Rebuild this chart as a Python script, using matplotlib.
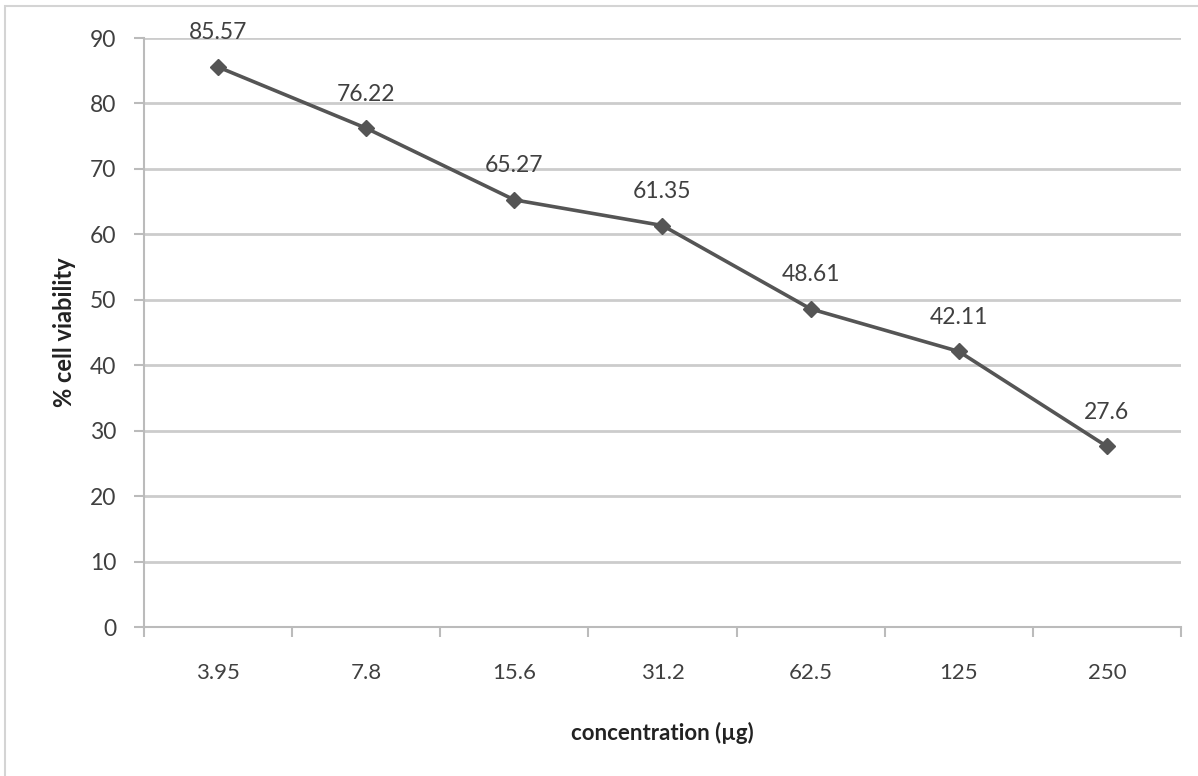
import matplotlib.pyplot as plt
from matplotlib.patches import Rectangle

concentrations = ["3.95", "7.8", "15.6", "31.2", "62.5", "125", "250"]
viability = [85.57, 76.22, 65.27, 61.35, 48.61, 42.11, 27.6]

plt.rcParams['font.family'] = ['Lato', 'DejaVu Sans']

fig = plt.figure(figsize=(11.98, 7.76), dpi=100)
ax = fig.add_axes([0.1202, 0.192, 0.8656, 0.759])

# outer chart frame
fig.patches.append(Rectangle((0.0045, -0.05), 1.1, 1.0425, transform=fig.transFigure,
                             fill=False, edgecolor='#d4d4d4', linewidth=1.5))

x = list(range(len(concentrations)))
ax.plot(x, viability, color='#555555', linewidth=2.6, marker='D', markersize=8,
        markerfacecolor='#555555', markeredgecolor='#555555', zorder=3)

for xi, v in zip(x, viability):
    ax.annotate(f"{v:g}", (xi, v), xytext=(0, 17), textcoords='offset points',
                ha='center', va='bottom', fontsize=16.5, color='#404040')

ax.set_xlim(-0.5, len(concentrations) - 0.5)
ax.set_ylim(0, 90)
ax.set_yticks(range(0, 91, 10))
ax.set_xticks(x)
ax.set_xticklabels(concentrations)
ax.set_xticks([i - 0.5 for i in range(len(concentrations) + 1)], minor=True)
ax.tick_params(axis='x', which='major', length=0, pad=26, labelsize=16, labelcolor='#404040')
ax.tick_params(axis='x', which='minor', length=7, width=1.5, color='#bbbbbb')
ax.tick_params(axis='y', length=7, width=1.5, color='#bbbbbb', labelsize=16.5,
               labelcolor='#404040', pad=13)

ax.grid(axis='y', color='#cccccc', linewidth=2)
ax.set_axisbelow(True)
for side in ['top', 'right']:
    ax.spines[side].set_visible(False)
for side in ['left', 'bottom']:
    ax.spines[side].set_color('#bbbbbb')
    ax.spines[side].set_linewidth(1.5)

ax.set_xlabel('concentration (µg)', fontsize=16, fontweight='bold', color='#222222', labelpad=28)
ax.set_ylabel('% cell viability', fontsize=17, fontweight='bold', color='#222222', labelpad=10)

fig.savefig('out.png', dpi=100)
